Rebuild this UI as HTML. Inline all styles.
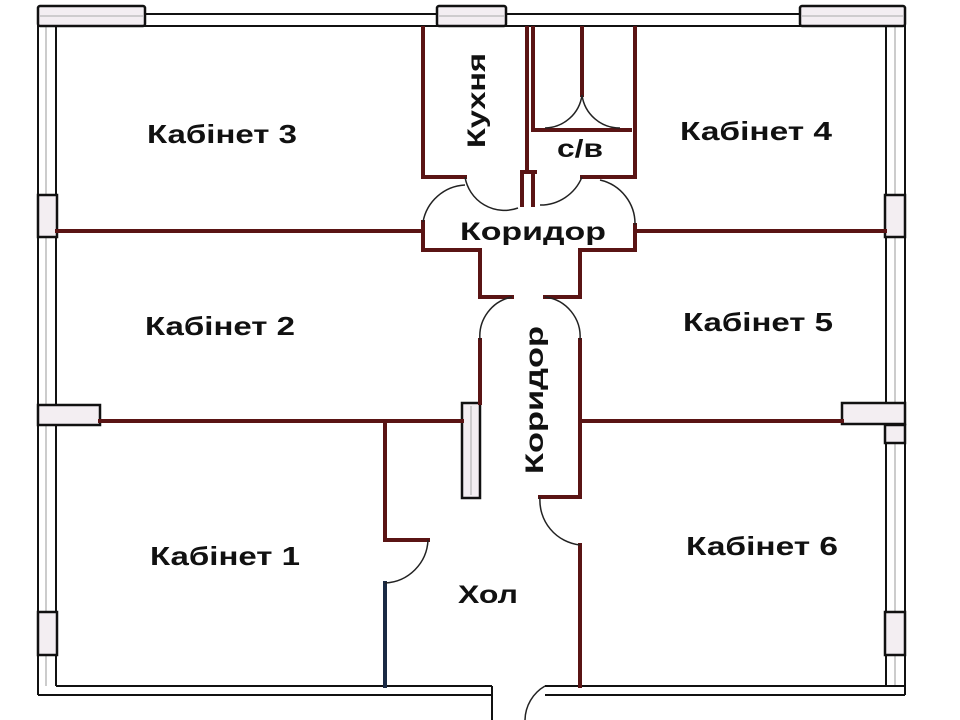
<!DOCTYPE html>
<html><head><meta charset="utf-8"><style>
html,body{margin:0;padding:0;background:#fff;}
svg{display:block}
text{font-family:"Liberation Sans",sans-serif;font-weight:bold;fill:#111;}
</style></head><body>
<svg width="960" height="720" viewBox="0 0 960 720" xmlns="http://www.w3.org/2000/svg">
<g fill="none" stroke="#111" stroke-width="2">
<line x1="38" y1="14" x2="905" y2="14"/>
<line x1="56" y1="26" x2="886" y2="26"/>
<line x1="38" y1="8" x2="38" y2="695"/>
<line x1="56" y1="26" x2="56" y2="686"/>
<line x1="46" y1="26" x2="46" y2="686" stroke="#999" stroke-width="1"/>
<line x1="905" y1="8" x2="905" y2="695"/>
<line x1="886" y1="26" x2="886" y2="686"/>
<line x1="895" y1="26" x2="895" y2="686" stroke="#999" stroke-width="1"/>
<line x1="56" y1="686" x2="492" y2="686"/>
<line x1="38" y1="695" x2="492" y2="695"/>
<line x1="492" y1="686" x2="492" y2="720"/>
<line x1="545" y1="686" x2="905" y2="686"/>
<line x1="545" y1="695" x2="905" y2="695"/>
</g>
<g fill="#f3eef2" stroke="#111" stroke-width="2.5">
<rect x="38" y="6" width="107" height="20" rx="2"/>
<rect x="437" y="6" width="69" height="20" rx="2"/>
<rect x="800" y="6" width="105" height="20" rx="2"/>
<rect x="38" y="195" width="19" height="42"/>
<rect x="38" y="405" width="62" height="20"/>
<rect x="38" y="612" width="19" height="43"/>
<rect x="885" y="195" width="20" height="42"/>
<rect x="842" y="403" width="63" height="21"/>
<rect x="885" y="425" width="20" height="18"/>
<rect x="885" y="612" width="20" height="43"/>
<rect x="462" y="403" width="18" height="95"/>
</g>
<g stroke="#aaa" stroke-width="1">
<line x1="40" y1="16" x2="143" y2="16"/><line x1="439" y1="16" x2="504" y2="16"/><line x1="802" y1="16" x2="903" y2="16"/>
<line x1="471" y1="406" x2="471" y2="495"/>
</g>
<g fill="none" stroke="#5a1414" stroke-width="4" stroke-linecap="square">
<line x1="57" y1="231" x2="423" y2="231"/>
<line x1="636" y1="231" x2="885" y2="231"/>
<line x1="100" y1="421" x2="462" y2="421"/>
<line x1="580" y1="421" x2="842" y2="421"/>
<polyline points="423,28 423,177 465,177"/>
<line x1="527" y1="28" x2="527" y2="172"/>
<polyline points="533,28 533,130 630,130"/>
<line x1="582" y1="28" x2="582" y2="95"/>
<polyline points="635,28 635,177 582,177"/>
<line x1="522" y1="172" x2="535" y2="172"/>
<line x1="533" y1="172" x2="533" y2="205"/>
<line x1="522" y1="172" x2="522" y2="205"/>
<polyline points="423,222 423,250 480,250 480,297 512,297"/>
<polyline points="635,225 635,250 580,250 580,297 545,297"/>
<polyline points="480,340 480,403"/>
<polyline points="580,340 580,497 540,497"/>
<line x1="580" y1="545" x2="580" y2="686"/>
<polyline points="385,425 385,540 428,540"/>
<line x1="385" y1="583" x2="385" y2="686" stroke="#1a2a44"/>
</g>
<g fill="none" stroke="#222" stroke-width="1.5">
<path d="M465,177 A40,40 0 0 0 518,208"/>
<path d="M423,222 A45,45 0 0 1 465,185"/>
<path d="M540,205 A45,45 0 0 0 582,177"/>
<path d="M635,225 A45,45 0 0 0 600,180"/>
<path d="M582,95 A38,38 0 0 1 545,128"/>
<path d="M582,95 A38,38 0 0 0 620,128"/>
<path d="M512,297 A40,40 0 0 0 480,340"/>
<path d="M545,297 A40,40 0 0 1 580,340"/>
<path d="M540,497 A45,45 0 0 0 580,545"/>
<path d="M428,540 A45,45 0 0 1 385,583"/>
<path d="M545,686 A40,40 0 0 0 525,720"/>
</g>
<text x="147" y="143" font-size="26" textLength="150" lengthAdjust="spacingAndGlyphs">Кабінет 3</text>
<text x="145" y="335" font-size="26" textLength="150" lengthAdjust="spacingAndGlyphs">Кабінет 2</text>
<text x="150" y="565" font-size="26" textLength="150" lengthAdjust="spacingAndGlyphs">Кабінет 1</text>
<text x="680" y="140" font-size="26" textLength="152" lengthAdjust="spacingAndGlyphs">Кабінет 4</text>
<text x="683" y="331" font-size="26" textLength="150" lengthAdjust="spacingAndGlyphs">Кабінет 5</text>
<text x="686" y="555" font-size="26" textLength="152" lengthAdjust="spacingAndGlyphs">Кабінет 6</text>
<text x="460" y="240" font-size="25" textLength="146" lengthAdjust="spacingAndGlyphs">Коридор</text>
<text x="557" y="157" font-size="25" textLength="46" lengthAdjust="spacingAndGlyphs">с/в</text>
<text x="458" y="603" font-size="25" textLength="60" lengthAdjust="spacingAndGlyphs">Хол</text>
<text transform="translate(485,148) rotate(-90)" font-size="25" textLength="95" lengthAdjust="spacingAndGlyphs">Кухня</text>
<text transform="translate(543,474) rotate(-90)" font-size="25" textLength="148" lengthAdjust="spacingAndGlyphs">Коридор</text>
</svg>
</body></html>
